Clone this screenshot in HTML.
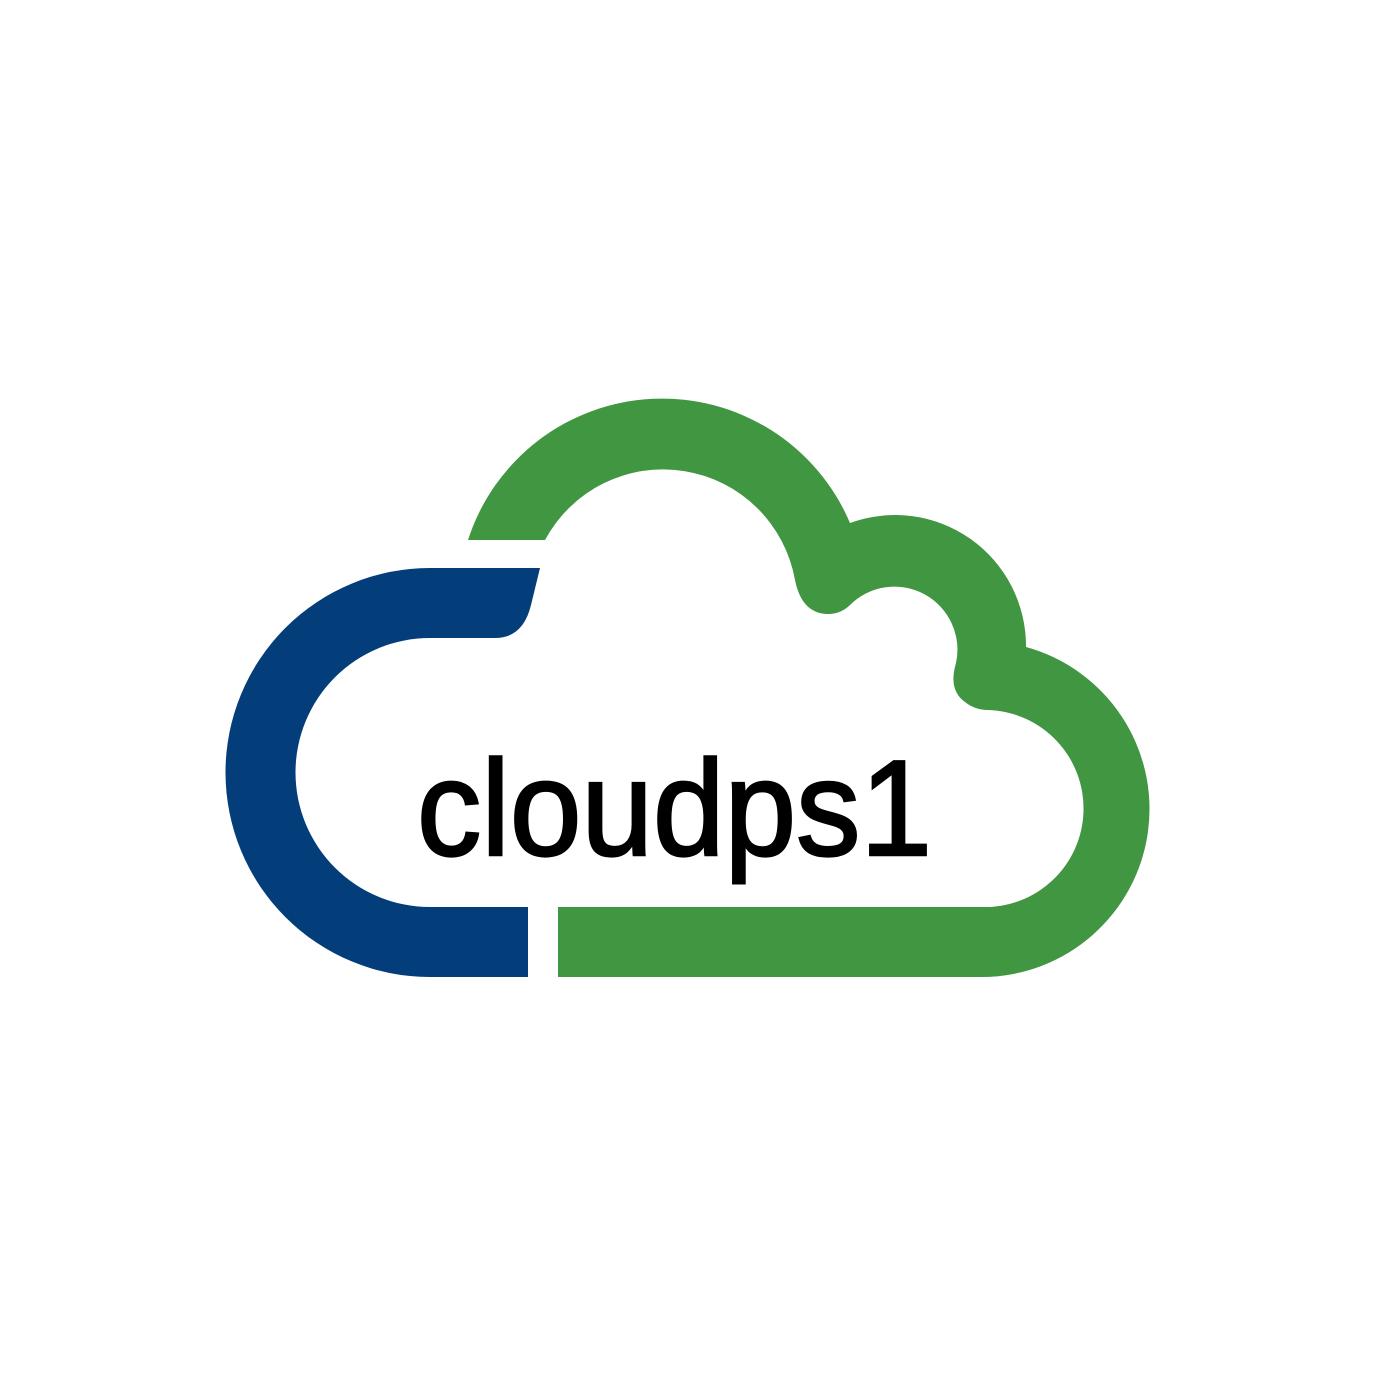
<!DOCTYPE html>
<html><head><meta charset="utf-8"><style>html,body{margin:0;padding:0;background:#fff}svg{display:block}</style></head>
<body>
<svg width="1378" height="1378" viewBox="0 0 1378 1378" xmlns="http://www.w3.org/2000/svg">
<rect width="1378" height="1378" fill="#fff"/>
<path fill="#033d7a" d="M540,568 L430,568 A204.5,204.5 0 0 0 430,977 L528,977 L528,907 L430,907 A134.5,134.5 0 0 1 430,638 L495,638 Q523,638 531,605 Z"/>
<path fill="#419641" d="M558,977 L982,977 A168,168 0 0 0 1026,647 A131,131 0 0 0 850,523 A204,204 0 0 0 468,540 L545,540 A134,134 0 0 1 795,580 Q802,615 830,614 Q842,613 850,605 A63,63 0 0 1 956,663 Q948,690 965,702 Q975,710 988,710 A98.5,98.5 0 0 1 982,907 L558,907 Z"/>
<text x="417" y="855" font-family="'Liberation Sans', sans-serif" font-size="136" textLength="515" lengthAdjust="spacingAndGlyphs" fill="#000" stroke="#000" stroke-width="2.5">cloudps1</text>
</svg>
</body></html>
